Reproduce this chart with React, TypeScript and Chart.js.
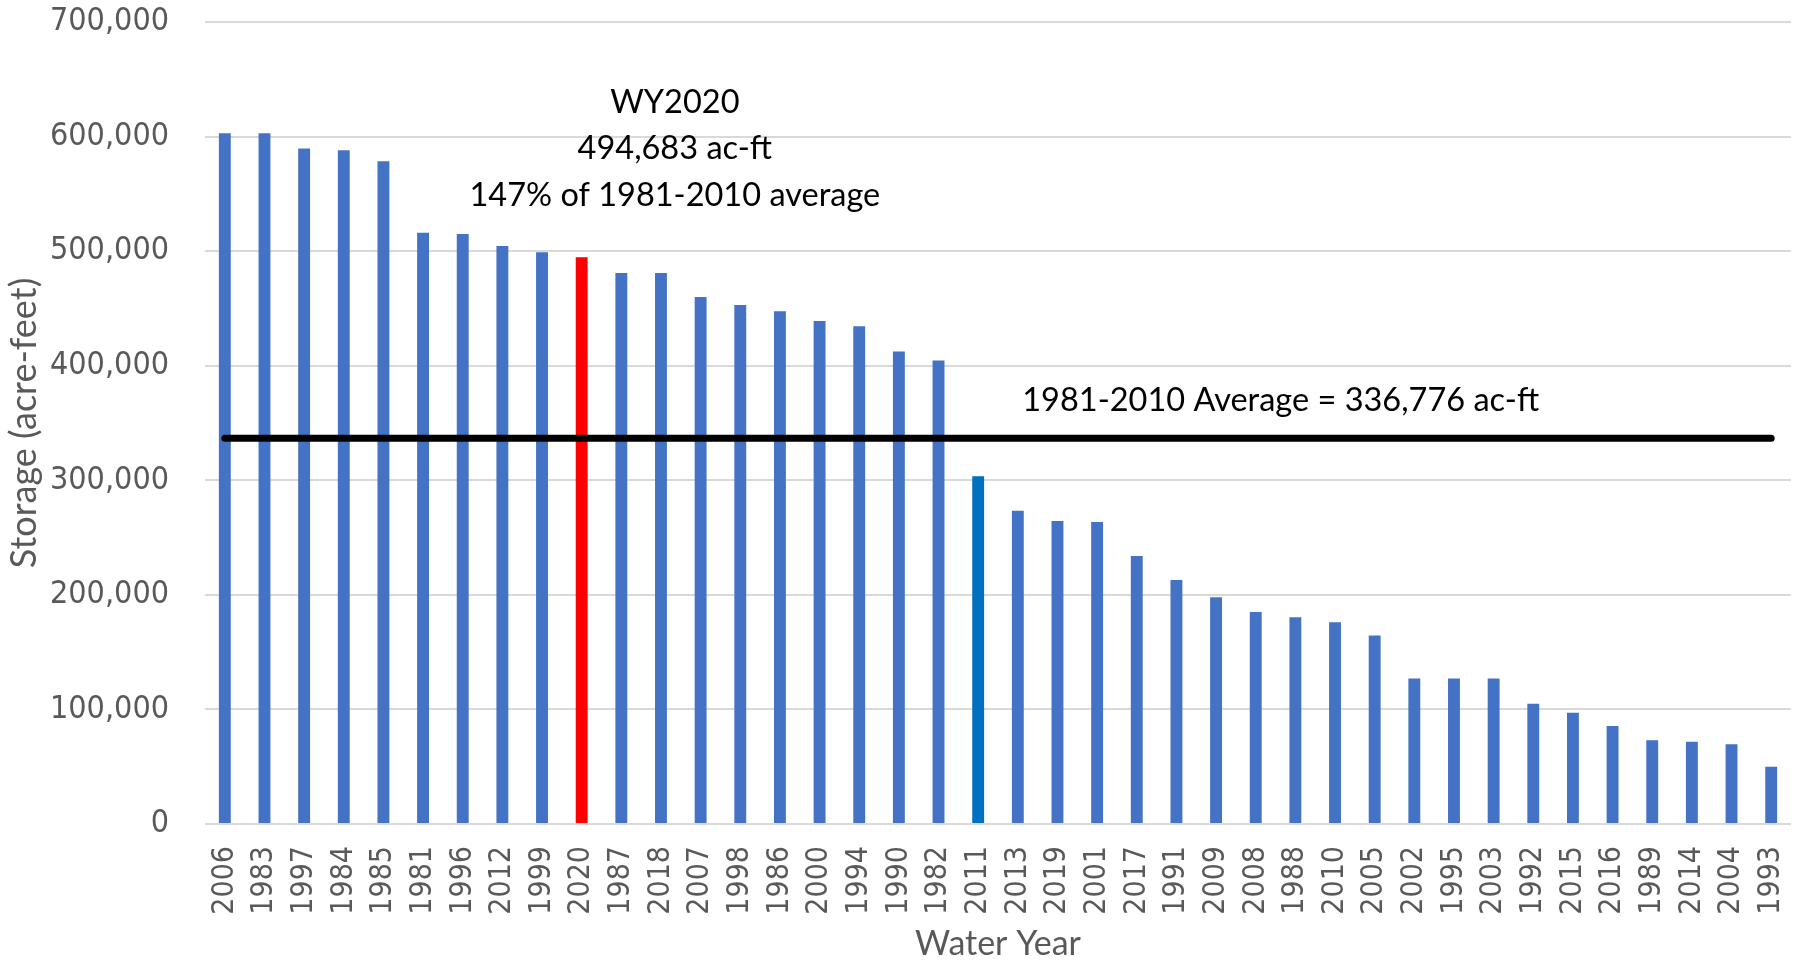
import React, { useEffect, useRef } from "react";
import { Chart, registerables } from "chart.js";

Chart.register(...registerables);

const WATER_YEARS = [
  "2006", "1983", "1997", "1984", "1985", "1981", "1996", "2012", "1999", "2020",
  "1987", "2018", "2007", "1998", "1986", "2000", "1994", "1990", "1982", "2011",
  "2013", "2019", "2001", "2017", "1991", "2009", "2008", "1988", "2010", "2005",
  "2002", "1995", "2003", "1992", "2015", "2016", "1989", "2014", "2004", "1993",
];

const STORAGE = [
  603000, 603000, 589500, 588000, 578500, 516000, 515000, 504500, 499000, 494683,
  481000, 481000, 460000, 453000, 447500, 439000, 434500, 412500, 404500, 303500,
  273500, 264500, 263500, 234000, 213000, 198000, 185000, 180500, 176000, 164500,
  127000, 127000, 127000, 105000, 97000, 85500, 73000, 71800, 69500, 50000,
];

const AVERAGE_1981_2010 = 336776;

const Y_TICKS = [0, 100000, 200000, 300000, 400000, 500000, 600000, 700000];

const BAR_BLUE = "#4472C4";
const HIGHLIGHT_YEAR = "2020";
const HIGHLIGHT_COLOR = "#FF0000";
const ACCENT_YEAR = "2011";
const ACCENT_COLOR = "#0070C0";

const WY_NOTE_LINES = ["WY2020", "494,683 ac-ft", "147% of 1981-2010 average"];
const WY_NOTE_Y = [621000, 580000, 539000];
const WY_NOTE_X = 11.35;
const AVG_LABEL = "1981-2010 Average = 336,776 ac-ft";
const AVG_LABEL_X = 26.63;
const AVG_LABEL_Y = 360200;

const TEXT_FONT = "Lato, 'Open Sans', sans-serif";
const TICK_FONT = "'DejaVu Sans Condensed', 'Open Sans', sans-serif";
const GREY = "#595959";

const annotationPlugin = {
  id: "wyAnnotations",
  afterDatasetsDraw(chart: any) {
    const { ctx } = chart;
    const xs = chart.scales.x;
    const ys = chart.scales.y;
    ctx.save();
    ctx.fillStyle = "#000000";
    ctx.font = `32.5px ${TEXT_FONT}`;
    ctx.textAlign = "center";
    ctx.textBaseline = "alphabetic";
    WY_NOTE_LINES.forEach((t, i) => {
      ctx.fillText(t, xs.getPixelForValue(WY_NOTE_X), ys.getPixelForValue(WY_NOTE_Y[i]));
    });
    ctx.fillText(AVG_LABEL, xs.getPixelForValue(AVG_LABEL_X), ys.getPixelForValue(AVG_LABEL_Y));
    ctx.restore();
  },
};

export default function App() {
  const canvasRef = useRef<HTMLCanvasElement | null>(null);

  useEffect(() => {
    if (!canvasRef.current) return;
    const colors = WATER_YEARS.map((y) =>
      y === HIGHLIGHT_YEAR ? HIGHLIGHT_COLOR : y === ACCENT_YEAR ? ACCENT_COLOR : BAR_BLUE
    );
    const chart = new Chart(canvasRef.current, {
      type: "bar",
      data: {
        labels: WATER_YEARS,
        datasets: [
          {
            type: "line",
            label: "1981-2010 Average",
            data: WATER_YEARS.map(() => AVERAGE_1981_2010),
            borderColor: "#000000",
            borderWidth: 7,
            borderCapStyle: "round",
            pointRadius: 0,
            fill: false,
            order: 0,
          } as any,
          {
            type: "bar",
            label: "Storage",
            data: STORAGE,
            backgroundColor: colors,
            borderWidth: 0,
            categoryPercentage: 1,
            barPercentage: 0.3,
            order: 1,
          },
        ],
      },
      options: {
        responsive: false,
        animation: false,
        layout: { padding: { top: 22, right: 9, bottom: 0, left: 0 } },
        plugins: {
          legend: { display: false },
          tooltip: { enabled: false },
        },
        scales: {
          x: {
            grid: { display: false, drawTicks: false },
            border: { display: false },
            ticks: {
              autoSkip: false,
              minRotation: 90,
              maxRotation: 90,
              padding: 22,
              color: GREY,
              font: { family: TICK_FONT, size: 30 },
            },
            title: {
              display: true,
              text: "Water Year",
              color: GREY,
              font: { family: TEXT_FONT, size: 34, lineHeight: 1 },
              padding: { top: 0, bottom: 0 },
            },
            afterFit: (scale: any) => {
              scale.height = 137;
              scale.paddingLeft = 0;
              scale.paddingRight = 0;
            },
          },
          y: {
            min: 0,
            max: 700000,
            afterBuildTicks: (scale: any) => {
              scale.ticks = Y_TICKS.map((v) => ({ value: v }));
            },
            grid: { color: "#D9D9D9", lineWidth: 2, drawTicks: false },
            border: { display: false },
            ticks: {
              padding: 36,
              color: GREY,
              font: { family: TICK_FONT, size: 32 },
              callback: (v: any) => Number(v).toLocaleString("en-US"),
            },
            title: {
              display: true,
              text: "Storage (acre-feet)",
              color: GREY,
              font: { family: TEXT_FONT, size: 36, lineHeight: 1.2 },
              padding: { top: 3, bottom: 0 },
            },
            afterFit: (scale: any) => {
              scale.width = 205;
              scale.paddingTop = 0;
              scale.paddingBottom = 0;
            },
          },
        },
      },
      plugins: [annotationPlugin],
    });
    return () => chart.destroy();
  }, []);

  return (
    <div style={{ position: "absolute", left: 0, top: 0, width: 1800, height: 961, background: "#fff" }}>
      <canvas ref={canvasRef} width={1800} height={961} style={{ display: "block" }} />
    </div>
  );
}
